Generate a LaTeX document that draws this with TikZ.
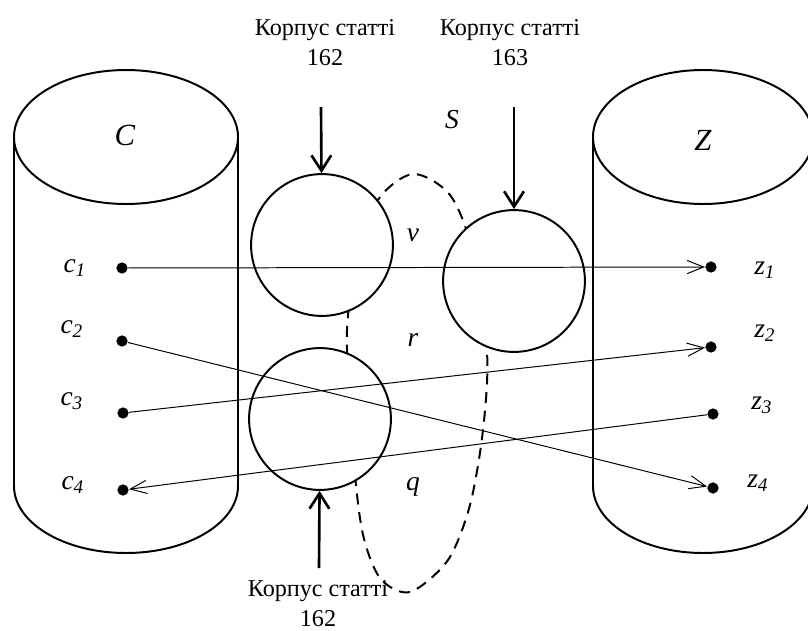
\documentclass[tikz,border=0pt]{standalone}
\usepackage{fontspec}
\setmainfont{LiberationSerif}[Extension=.ttf, UprightFont=*-Regular, ItalicFont=*-Italic, BoldFont=*-Bold, BoldItalicFont=*-BoldItalic]
\usetikzlibrary{arrows.meta}

\begin{document}
\begin{tikzpicture}[
  x=0.016cm, y=-0.016cm,
  every node/.style={font=\fontsize{11}{13.6}\selectfont},
  art/.style={circle, draw, line width=0.9pt, fill=white, minimum size=2.27cm, inner sep=0pt},
  pt/.style={circle, fill, minimum size=0.18cm, inner sep=0pt},
  lab/.style={font=\fontsize{12.5}{14}\selectfont\itshape},
  big/.style={font=\fontsize{14}{16}\selectfont\itshape},
  link/.style={line width=0.45pt, -{Straight Barb[length=7.5pt,width=6pt]}},
  feed/.style={line width=1.2pt, -{Straight Barb[length=7pt,width=9pt]}},
  tank/.style={line width=0.9pt}
]
\useasboundingbox (0,0) rectangle (808,630);
\clip (0,0) rectangle (808,630);

% the two stores
\draw[tank] (126,137) ellipse [x radius=112, y radius=67];
\draw[tank] (14,137) -- (14,486) arc[start angle=180, end angle=0, x radius=112, y radius=67] -- (238,137);
\draw[tank] (703,137) ellipse [x radius=110, y radius=67];
\draw[tank] (593,137) -- (593,486) arc[start angle=180, end angle=0, x radius=110, y radius=67] -- (813,137);
\node[big] at (125,135) {C};
\node[big] at (703,140) {Z};

% dashed region s
\draw[line width=0.9pt, dash pattern=on 5pt off 3.5pt]
  plot[smooth cycle] coordinates {(347,330) (358,260) (378,200) (413,174) (450,195) (472,250)
    (487,352) (483,430) (470,505) (448,560) (410,592) (380,578) (362,530) (352,440)};

% articles
\node[art] (ca) at (322,245) {};
\node[art] (cb) at (320,419) {};
\node[art] (cc) at (514,281) {};

\node[align=center] (srca) at (325,43) {Корпус статті\\162};
\node[align=center] (srcb) at (510,43) {Корпус статті\\163};
\node[align=center] (srcc) at (318,604) {Корпус статті\\162};
\coordinate (ina) at (321,107);
\coordinate (inb) at (514,107);
\coordinate (inc) at (319,568);
\draw[feed] (ina) -- (ca);
\draw[feed] (inb) -- (cc);
\draw[feed] (inc) -- (cb);

\node[lab] at (452,120) {S};
\node[lab] at (413,235) {v};
\node[lab] at (413,340) {r};
\node[lab] at (413,487) {q};

% elements
\node[pt] (c1) at (122,268) {};
\node[pt] (c2) at (122,341) {};
\node[pt] (c3) at (123,413) {};
\node[pt] (c4) at (123,490) {};
\node[pt] (z1) at (711,267) {};
\node[pt] (z2) at (711,347) {};
\node[pt] (z3) at (713,414) {};
\node[pt] (z4) at (713,488) {};

\node[lab] at (75,268) {c\textsubscript{1}};
\node[lab] at (72,329) {c\textsubscript{2}};
\node[lab] at (72,401) {c\textsubscript{3}};
\node[lab] at (73,485) {c\textsubscript{4}};
\node[lab] at (765,270) {z\textsubscript{1}};
\node[lab] at (765,333) {z\textsubscript{2}};
\node[lab] at (762,405) {z\textsubscript{3}};
\node[lab] at (758,483) {z\textsubscript{4}};

\draw[link] (c1) -- (z1);
\draw[link] (c2) -- (z4);
\draw[link] (c3) -- (z2);
\draw[link] (z3) -- (c4);
\end{tikzpicture}
\end{document}
